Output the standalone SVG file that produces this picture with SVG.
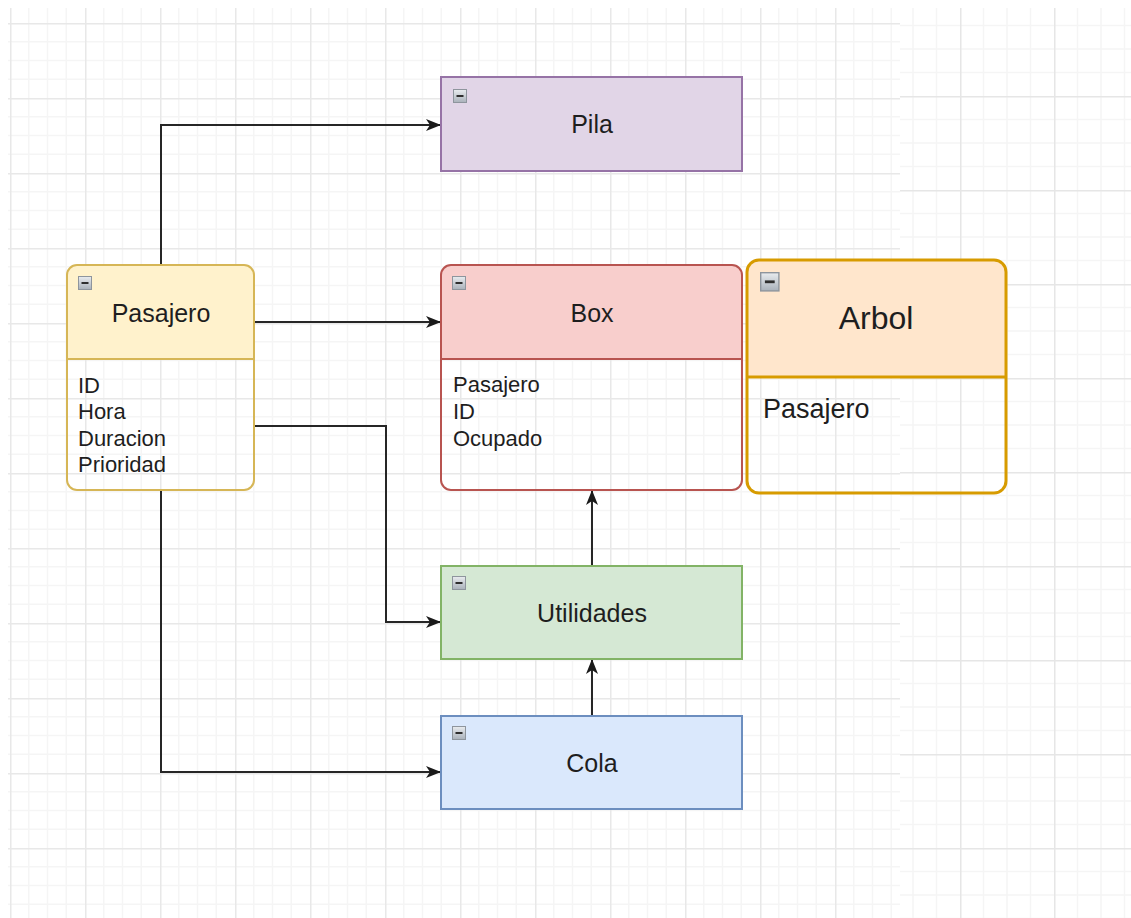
<svg xmlns="http://www.w3.org/2000/svg" width="1131" height="918" viewBox="0 0 1131 918">
  <style>
    .t { font-family: "Liberation Sans", Arial, sans-serif; fill: #1e1e1e; }
    .title { font-size: 25px; text-anchor: middle; }
    .item { font-size: 22px; }
    .edge { fill: none; stroke: #262626; stroke-width: 2; }
    .div { stroke-width: 2; }
  </style>
  <defs>
    <!-- canvas grid, left sheet: 75px cells with 4 subdivisions -->
    <pattern id="gridA" patternUnits="userSpaceOnUse" x="10" y="23" width="75" height="75">
      <path d="M18.75 0V75M37.5 0V75M56.25 0V75M0 18.75H75M0 37.5H75M0 56.25H75" stroke="#f5f5f5" stroke-width="1.5" fill="none"/>
      <path d="M0.5 0V75M0 0.5H75" stroke="#e8e8e8" stroke-width="2" fill="none"/>
    </pattern>
    <!-- canvas grid, right sheet: 94px cells with 4 subdivisions -->
    <pattern id="gridB" patternUnits="userSpaceOnUse" x="866" y="2" width="94" height="94">
      <path d="M23.5 0V94M47 0V94M70.5 0V94M0 23.5H94M0 47H94M0 70.5H94" stroke="#f5f5f5" stroke-width="1.5" fill="none"/>
      <path d="M0.5 0V94M0 0.5H94" stroke="#e6e6e6" stroke-width="2" fill="none"/>
    </pattern>
    <linearGradient id="btn" x1="0" y1="0" x2="0" y2="1">
      <stop offset="0" stop-color="#e9ecef"/>
      <stop offset="1" stop-color="#a9b1ba"/>
    </linearGradient>
    <marker id="arrow" markerUnits="userSpaceOnUse" markerWidth="16" markerHeight="14" refX="15" refY="7" orient="auto">
      <path d="M0 1L15 7L0 13L4 7Z" fill="#1a1a1a"/>
    </marker>
    <!-- collapse button used in every container header -->
    <g id="collapse">
      <rect x="0.5" y="0.5" width="13" height="13" fill="url(#btn)" stroke="#8e959d" stroke-width="1"/>
      <path d="M3.5 7H10.5" stroke="#2e2e2e" stroke-width="2"/>
    </g>
  </defs>

  <rect width="1131" height="918" fill="#ffffff"/>
  <rect x="8" y="8" width="892" height="910" fill="url(#gridA)"/>
  <rect x="900" y="8" width="231" height="910" fill="url(#gridB)"/>

  <g id="connectors">
    <path class="edge" d="M161 265V125H441" marker-end="url(#arrow)"/>
    <path class="edge" d="M254 322H441" marker-end="url(#arrow)"/>
    <path class="edge" d="M254 426H386V622H441" marker-end="url(#arrow)"/>
    <path class="edge" d="M161 490V772H441" marker-end="url(#arrow)"/>
    <path class="edge" d="M592 566V490" marker-end="url(#arrow)"/>
    <path class="edge" d="M592 716V659" marker-end="url(#arrow)"/>
  </g>

  <g id="pila">
    <rect x="441" y="77" width="301" height="94" fill="#e1d5e7" stroke="#9673a6" stroke-width="2"/>
    <use href="#collapse" x="453" y="89"/>
    <text class="t title" x="592" y="133">Pila</text>
  </g>

  <g id="pasajero">
    <path d="M67 359V275a10 10 0 0 1 10-10H244a10 10 0 0 1 10 10V359Z" fill="#fff2cc"/>
    <rect x="67" y="265" width="187" height="225" rx="10" fill="none" stroke="#d6b656" stroke-width="2"/>
    <line class="div" x1="67" y1="359" x2="254" y2="359" stroke="#d6b656"/>
    <use href="#collapse" x="78" y="276"/>
    <text class="t title" x="161" y="322">Pasajero</text>
    <text class="t item" x="78" y="393">ID</text>
    <text class="t item" x="78" y="419">Hora</text>
    <text class="t item" x="78" y="446">Duracion</text>
    <text class="t item" x="78" y="472">Prioridad</text>
  </g>

  <g id="box">
    <path d="M441 359V275a10 10 0 0 1 10-10H732a10 10 0 0 1 10 10V359Z" fill="#f8cecc"/>
    <rect x="441" y="265" width="301" height="225" rx="10" fill="none" stroke="#b85450" stroke-width="2"/>
    <line class="div" x1="441" y1="359" x2="742" y2="359" stroke="#b85450"/>
    <use href="#collapse" x="452" y="276"/>
    <text class="t title" x="592" y="322">Box</text>
    <text class="t item" x="453" y="392">Pasajero</text>
    <text class="t item" x="453" y="419">ID</text>
    <text class="t item" x="453" y="446">Ocupado</text>
  </g>

  <g id="arbol">
    <path d="M747 377V272a12 12 0 0 1 12-12H994a12 12 0 0 1 12 12V377Z" fill="#ffe6cc"/>
    <rect x="747" y="260" width="259" height="233" rx="12" fill="none" stroke="#d79b00" stroke-width="3"/>
    <line x1="747" y1="377" x2="1006" y2="377" stroke="#d79b00" stroke-width="3"/>
    <g transform="translate(760 272) scale(1.4)"><use href="#collapse"/></g>
    <text class="t" x="876" y="329" font-size="32" text-anchor="middle">Arbol</text>
    <text class="t" x="763" y="418" font-size="27">Pasajero</text>
  </g>

  <g id="utilidades">
    <rect x="441" y="566" width="301" height="93" fill="#d5e8d4" stroke="#82b366" stroke-width="2"/>
    <use href="#collapse" x="452" y="576"/>
    <text class="t title" x="592" y="622">Utilidades</text>
  </g>

  <g id="cola">
    <rect x="441" y="716" width="301" height="93" fill="#dae8fc" stroke="#6c8ebf" stroke-width="2"/>
    <use href="#collapse" x="452" y="726"/>
    <text class="t title" x="592" y="772">Cola</text>
  </g>
</svg>
